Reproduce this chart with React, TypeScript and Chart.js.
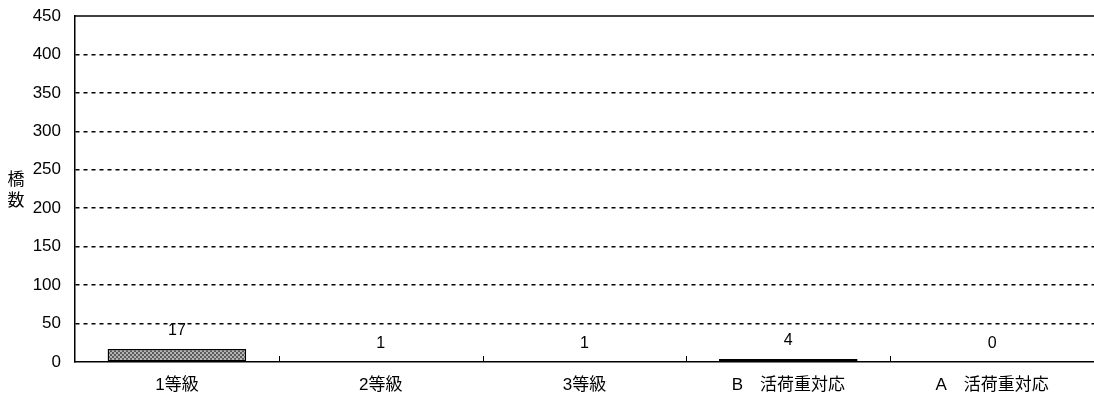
import React, { useEffect, useRef } from "react";
import { Chart, registerables } from "chart.js";

Chart.register(...registerables);

const categories = ["1等級", "2等級", "3等級", "B　活荷重対応", "A　活荷重対応"];
const bridgeCounts = [17, 1, 1, 4, 0];
const yTicks = [0, 50, 100, 150, 200, 250, 300, 350, 400, 450];
const yTitleChars = ["橋", "数"];

function makePattern(): CanvasPattern | string {
  const c = document.createElement("canvas");
  c.width = 4;
  c.height = 4;
  const g = c.getContext("2d");
  if (!g) return "#888";
  g.fillStyle = "#b4b4b4";
  g.fillRect(0, 0, 4, 4);
  g.fillStyle = "#5a5a5a";
  g.fillRect(0, 0, 2, 2);
  g.fillRect(2, 2, 2, 2);
  const p = g.createPattern(c, "repeat");
  return p || "#888";
}

export default function App() {
  const ref = useRef<HTMLCanvasElement | null>(null);

  useEffect(() => {
    const canvas = ref.current;
    if (!canvas) return;
    const pattern = makePattern();

    const decorPlugin = {
      id: "decor",
      afterDatasetsDraw(chart: any) {
        const { ctx, chartArea, scales } = chart;
        const x = scales.x;
        const y = scales.y;
        ctx.save();
        ctx.strokeStyle = "#000";
        ctx.lineWidth = 1.5;
        ctx.beginPath();
        ctx.moveTo(chartArea.left, chartArea.top);
        ctx.lineTo(chartArea.right, chartArea.top);
        ctx.stroke();
        ctx.lineWidth = 1;
        const n = categories.length;
        for (let i = 1; i < n; i++) {
          const bx = Math.round((x.getPixelForValue(i - 1) + x.getPixelForValue(i)) / 2) + 0.5;
          ctx.beginPath();
          ctx.moveTo(bx, chartArea.bottom);
          ctx.lineTo(bx, chartArea.bottom - 6);
          ctx.stroke();
        }
        ctx.fillStyle = "#000";
        ctx.font = "16px 'Liberation Sans', 'Noto Sans CJK JP', sans-serif";
        ctx.textAlign = "center";
        ctx.textBaseline = "middle";
        bridgeCounts.forEach((v, i) => {
          const px = x.getPixelForValue(i);
          const py = y.getPixelForValue(v);
          ctx.fillText(String(v), px, py - 18);
        });
        ctx.font = "17px 'Noto Sans CJK JP', sans-serif";
        yTitleChars.forEach((ch, i) => {
          ctx.fillText(ch, 16, 179 + i * 21);
        });
        ctx.restore();
      },
    };

    const chart = new Chart(canvas, {
      type: "bar",
      data: {
        labels: categories,
        datasets: [
          {
            data: bridgeCounts,
            backgroundColor: pattern as any,
            borderColor: "#000",
            borderWidth: 1.5,
            borderSkipped: false,
            categoryPercentage: 1,
            barPercentage: 0.68,
          },
        ],
      },
      options: {
        animation: false,
        responsive: false,
        maintainAspectRatio: false,
        layout: { padding: { left: 0, right: 0, top: 16, bottom: 0 } },
        plugins: {
          legend: { display: false },
          tooltip: { enabled: false },
        },
        scales: {
          x: {
            afterFit(scale: any) {
              scale.height = 38;
              scale.paddingLeft = 0;
              scale.paddingRight = 0;
            },
            grid: { display: false, drawTicks: false },
            border: { display: true, color: "#000", width: 1.5 },
            ticks: {
              color: "#000",
              padding: 13,
              maxRotation: 0,
              autoSkip: false,
              font: { family: "'Liberation Sans', 'Noto Sans CJK JP', sans-serif", size: 17 },
            },
          },
          y: {
            min: 0,
            max: 450,
            afterFit(scale: any) {
              scale.width = 75;
              scale.paddingTop = 0;
              scale.paddingBottom = 0;
            },
            afterBuildTicks(scale: any) {
              scale.ticks = yTicks.map((v) => ({ value: v }));
            },
            grid: {
              drawTicks: false,
              color: (ctx: any) =>
                ctx.tick && (ctx.tick.value === 0 || ctx.tick.value === 450) ? "rgba(0,0,0,0)" : "#000",
              lineWidth: 1.5,
            },
            border: { display: true, color: "#000", width: 1.5, dash: [4, 4] },
            ticks: {
              color: "#000",
              padding: 14,
              font: { family: "'Liberation Sans', sans-serif", size: 17 },
            },
          },
        },
      },
      plugins: [decorPlugin],
    });

    return () => chart.destroy();
  }, []);

  return (
    <div style={{ position: "absolute", left: 0, top: 0, width: 1094, height: 400, background: "#fff" }}>
      <canvas ref={ref} width={1094} height={400} style={{ width: 1094, height: 400 }} />
    </div>
  );
}
